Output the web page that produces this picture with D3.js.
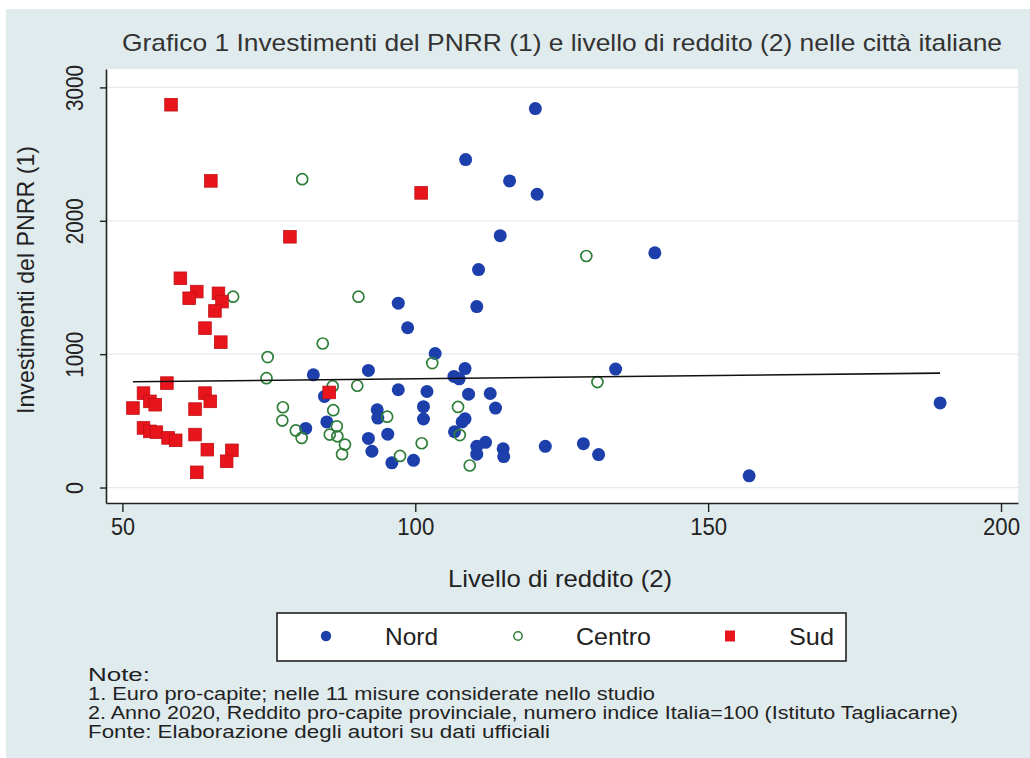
<!DOCTYPE html>
<html lang="it">
<head>
<meta charset="UTF-8">
<script src="https://cdn.jsdelivr.net/npm/d3@7"></script>
<title>Grafico 1</title>
<style>
  body { margin: 0; background: #fff; }
  text { font-family: "Liberation Sans", Arial, sans-serif; fill: #222; }
</style>
</head>
<body>
<script>
const w = 1030, h = 758;

// [reddito, investimenti]
const nord = [
  [120.5, 2841], [108.6, 2459], [116.1, 2299], [120.8, 2199], [114.5, 1888],
  [110.8, 1634], [110.5, 1357], [140.9, 1760], [97.1, 1382], [98.7, 1198],
  [103.4, 1005], [82.6, 845], [92.0, 878], [106.6, 833], [107.5, 815],
  [108.5, 892], [134.2, 888], [97.1, 733], [102.0, 720], [84.5, 683],
  [109.1, 700], [112.8, 705], [113.7, 596], [93.5, 583], [93.6, 521],
  [101.4, 606], [101.4, 514], [108.5, 515], [108.0, 492], [106.7, 418],
  [81.3, 443], [84.9, 492], [92.0, 368], [95.3, 400], [92.6, 272],
  [96.0, 185], [99.7, 204], [110.5, 309], [112.0, 339], [110.5, 250],
  [115.0, 290], [115.1, 232], [122.2, 309], [128.7, 329], [131.3, 247],
  [157.0, 88], [189.6, 634]
];
const centro = [
  [80.7, 2312], [129.2, 1736], [68.9, 1431], [90.3, 1431], [84.2, 1080],
  [74.8, 978], [74.6, 820], [85.9, 760], [90.1, 763], [77.4, 602],
  [77.3, 502], [79.6, 428], [80.6, 372], [86.0, 580], [86.6, 459],
  [85.4, 397], [86.7, 384], [88.0, 322], [87.5, 250], [95.2, 531],
  [101.1, 332], [97.4, 237], [102.9, 933], [131.1, 791], [107.3, 604],
  [107.6, 393], [109.3, 165]
];
const sud = [
  [58.3, 2870], [65.1, 2299], [101.0, 2209], [78.6, 1880], [59.9, 1569],
  [62.7, 1469], [61.4, 1419], [66.4, 1456], [67.0, 1394], [65.8, 1324],
  [64.1, 1195], [66.8, 1090], [57.6, 783], [53.6, 708], [54.7, 646],
  [51.8, 596], [55.6, 621], [64.1, 708], [65.0, 646], [62.4, 588],
  [53.6, 447], [54.7, 421], [55.8, 415], [57.8, 372], [59.1, 354],
  [62.4, 397], [64.5, 284], [68.7, 279], [67.8, 197], [62.7, 114],
  [85.3, 713]
];
// retta di regressione (valori stimati agli estremi)
const fitLine = [[51.8, 793], [189.6, 858]];

const xTicks = [50, 100, 150, 200];
const yTicks = [0, 1000, 2000, 3000];
const legendLabels = ["Nord", "Centro", "Sud"];
const notes = [
  "Note:",
  "1. Euro pro-capite; nelle 11 misure considerate nello studio",
  "2. Anno 2020, Reddito pro-capite provinciale, numero indice Italia=100 (Istituto Tagliacarne)",
  "Fonte: Elaborazione degli autori su dati ufficiali"
];

const plot = {left: 106, right: 1018, top: 69, bottom: 503};

const x = d3.scaleLinear().domain([47.2, 202.9]).range([plot.left, plot.right]);
const y = d3.scaleLinear().domain([-116, 3138]).range([plot.bottom, plot.top]);

const blue = "#1c3fab", green = "#2f7f3a", red = "#e8161c";

const svg = d3.select("body").append("svg")
  .attr("width", w).attr("height", h);

// sfondo
svg.append("rect").attr("x", 6).attr("y", 9).attr("width", w - 6).attr("height", h - 9)
  .attr("fill", "#e0ebee");
svg.append("rect")
  .attr("x", plot.left).attr("y", plot.top)
  .attr("width", plot.right - plot.left).attr("height", plot.bottom - plot.top)
  .attr("fill", "#fff");

// griglia
svg.append("g").selectAll("line").data(yTicks).enter().append("line")
  .attr("x1", plot.left).attr("x2", plot.right)
  .attr("y1", d => y(d)).attr("y2", d => y(d))
  .attr("stroke", "#e6ecee").attr("stroke-width", 1.2);

// assi
const xAxis = svg.append("g")
  .attr("transform", `translate(0,${plot.bottom})`)
  .call(d3.axisBottom(x).tickValues(xTicks).tickSize(9).tickSizeOuter(0));
xAxis.selectAll("text").attr("y", 32).attr("dy", 0)
  .attr("font-size", 23).attr("fill", "#222")
  .attr("textLength", d => d < 100 ? 24 : 37).attr("lengthAdjust", "spacingAndGlyphs");

const yAxis = svg.append("g")
  .attr("transform", `translate(${plot.left},0)`)
  .call(d3.axisLeft(y).tickValues(yTicks).tickFormat(d3.format("d")).tickSize(6).tickSizeOuter(0));
yAxis.selectAll("text")
  .attr("x", 0).attr("dy", 0)
  .attr("text-anchor", "middle")
  .attr("transform", "translate(-23,0) rotate(-90)")
  .attr("font-size", 23).attr("fill", "#222")
  .attr("textLength", d => d === 0 ? 12 : 46).attr("lengthAdjust", "spacingAndGlyphs");

[xAxis, yAxis].forEach(a => {
  a.select(".domain").attr("stroke", "#222").attr("stroke-width", 1.6);
  a.selectAll(".tick line").attr("stroke", "#222").attr("stroke-width", 1.4);
  a.selectAll("text").style("font-family", '"Liberation Sans", Arial, sans-serif');
});

// punti
svg.append("g").selectAll("circle").data(nord).enter().append("circle")
  .attr("cx", d => x(d[0])).attr("cy", d => y(d[1])).attr("r", 6.5)
  .attr("fill", blue);

svg.append("g").selectAll("circle").data(centro).enter().append("circle")
  .attr("cx", d => x(d[0])).attr("cy", d => y(d[1])).attr("r", 5.5)
  .attr("fill", "none").attr("stroke", green).attr("stroke-width", 1.7);

svg.append("g").selectAll("rect").data(sud).enter().append("rect")
  .attr("x", d => x(d[0]) - 6.3).attr("y", d => y(d[1]) - 6.3)
  .attr("width", 12.6).attr("height", 12.6)
  .attr("fill", red).attr("stroke", "#c01015").attr("stroke-width", 0.8);

// retta
svg.append("path").datum(fitLine)
  .attr("d", d3.line().x(d => x(d[0])).y(d => y(d[1])))
  .attr("fill", "none").attr("stroke", "#111").attr("stroke-width", 1.6);

// titoli
svg.append("text").attr("x", 562).attr("y", 51)
  .attr("text-anchor", "middle").attr("font-size", 24)
  .attr("textLength", 880).attr("lengthAdjust", "spacingAndGlyphs")
  .style("fill", "#333")
  .text("Grafico 1 Investimenti del PNRR (1) e livello di reddito (2) nelle città italiane");

svg.append("text").attr("x", 560).attr("y", 587)
  .attr("text-anchor", "middle").attr("font-size", 24)
  .attr("textLength", 224).attr("lengthAdjust", "spacingAndGlyphs")
  .text("Livello di reddito (2)");

svg.append("text")
  .attr("transform", "translate(34,280) rotate(-90)")
  .attr("text-anchor", "middle").attr("font-size", 24)
  .attr("textLength", 268).attr("lengthAdjust", "spacingAndGlyphs")
  .text("Investimenti del PNRR (1)");

// legenda
const lg = svg.append("g");
lg.append("rect").attr("x", 277).attr("y", 613).attr("width", 569).attr("height", 48)
  .attr("fill", "#fff").attr("stroke", "#222").attr("stroke-width", 1.6);
const symX = [326, 518, 730];
const labX = [385, 576, 789];
const labLen = [53, 75, 45];
lg.append("circle").attr("cx", symX[0]).attr("cy", 636).attr("r", 5.2).attr("fill", blue);
lg.append("circle").attr("cx", symX[1]).attr("cy", 636).attr("r", 4.2)
  .attr("fill", "none").attr("stroke", green).attr("stroke-width", 1.5);
lg.append("rect").attr("x", symX[2] - 5).attr("y", 630.5).attr("width", 10).attr("height", 11)
  .attr("fill", red);
lg.selectAll("text.lab").data(legendLabels).enter().append("text")
  .attr("class", "lab")
  .attr("x", (d, i) => labX[i]).attr("y", 645)
  .attr("font-size", 24)
  .attr("textLength", (d, i) => labLen[i]).attr("lengthAdjust", "spacingAndGlyphs")
  .text(d => d);

// note
const noteLen = [62, 567, 870, 462];
svg.append("g").selectAll("text").data(notes).enter().append("text")
  .attr("x", 88).attr("y", (d, i) => 681 + i * 19)
  .attr("font-size", 17.5)
  .attr("textLength", (d, i) => noteLen[i]).attr("lengthAdjust", "spacingAndGlyphs")
  .text(d => d);
</script>
</body>
</html>
